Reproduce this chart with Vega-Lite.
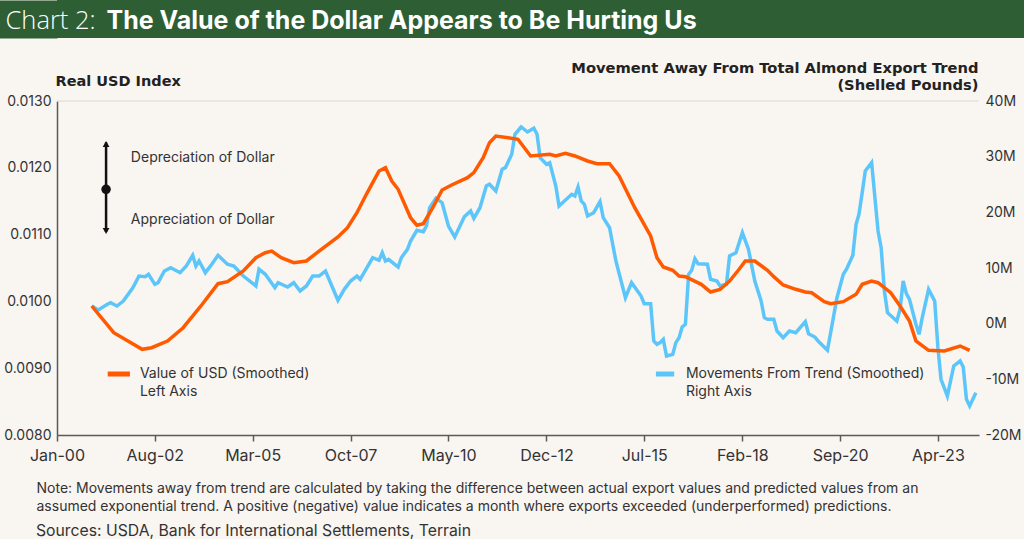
{
  "$schema": "https://vega.github.io/schema/vega-lite/v6.json",
  "background": "#f9f5f1",
  "padding": 0,
  "columns": 1,
  "spacing": 17,
  "config": {"font": "Inter", "view": {"stroke": null}},
  "title": {"text": "Sources: USDA, Bank for International Settlements, Terrain", "orient": "bottom", "anchor": "start", "frame": "bounds", "dx": 36, "offset": 23, "baseline": "alphabetic", "fontSize": 15.75, "fontWeight": "normal", "color": "#333333"},
  "datasets": {
    "usd": [
      {"date": "2000-12-01", "usd": 0.009931}, {"date": "2001-07-01", "usd": 0.009531}, {"date": "2002-04-01", "usd": 0.009283},
      {"date": "2002-07-01", "usd": 0.009307}, {"date": "2002-12-01", "usd": 0.009407}, {"date": "2003-05-01", "usd": 0.009606},
      {"date": "2003-11-01", "usd": 0.009957}, {"date": "2004-04-01", "usd": 0.010265}, {"date": "2004-07-01", "usd": 0.010295},
      {"date": "2004-12-01", "usd": 0.010455}, {"date": "2005-04-01", "usd": 0.010654}, {"date": "2005-07-01", "usd": 0.010729},
      {"date": "2005-09-01", "usd": 0.010754}, {"date": "2005-12-01", "usd": 0.010654}, {"date": "2006-04-01", "usd": 0.010579},
      {"date": "2006-08-01", "usd": 0.010605}, {"date": "2006-12-01", "usd": 0.010754}, {"date": "2007-06-01", "usd": 0.010964},
      {"date": "2007-09-01", "usd": 0.011103}, {"date": "2007-12-01", "usd": 0.011328}, {"date": "2008-03-01", "usd": 0.011603},
      {"date": "2008-05-01", "usd": 0.011777}, {"date": "2008-07-01", "usd": 0.011952}, {"date": "2008-09-01", "usd": 0.012002},
      {"date": "2008-11-01", "usd": 0.011802}, {"date": "2009-01-01", "usd": 0.011678}, {"date": "2009-05-01", "usd": 0.011253},
      {"date": "2009-07-01", "usd": 0.011139}, {"date": "2009-09-01", "usd": 0.011163}, {"date": "2009-12-01", "usd": 0.011403},
      {"date": "2010-03-01", "usd": 0.011668}, {"date": "2010-06-01", "usd": 0.011743}, {"date": "2010-11-01", "usd": 0.011852},
      {"date": "2011-01-01", "usd": 0.011927}, {"date": "2011-04-01", "usd": 0.012151}, {"date": "2011-06-01", "usd": 0.012376},
      {"date": "2011-08-01", "usd": 0.012476}, {"date": "2012-03-01", "usd": 0.012427}, {"date": "2012-07-01", "usd": 0.012177},
      {"date": "2013-01-01", "usd": 0.012202}, {"date": "2013-03-01", "usd": 0.012177}, {"date": "2013-06-01", "usd": 0.012217},
      {"date": "2013-09-01", "usd": 0.012177}, {"date": "2014-01-01", "usd": 0.012102}, {"date": "2014-04-01", "usd": 0.012061},
      {"date": "2014-08-01", "usd": 0.012061}, {"date": "2014-11-01", "usd": 0.011877}, {"date": "2015-04-01", "usd": 0.011403},
      {"date": "2015-09-01", "usd": 0.010979}, {"date": "2015-11-01", "usd": 0.010654}, {"date": "2016-01-01", "usd": 0.010515},
      {"date": "2016-04-01", "usd": 0.010466}, {"date": "2016-06-01", "usd": 0.010380}, {"date": "2016-08-01", "usd": 0.010370},
      {"date": "2017-01-01", "usd": 0.010256}, {"date": "2017-04-01", "usd": 0.010141}, {"date": "2017-07-01", "usd": 0.010181},
      {"date": "2017-10-01", "usd": 0.010305}, {"date": "2018-01-01", "usd": 0.010481}, {"date": "2018-03-01", "usd": 0.010605},
      {"date": "2018-06-01", "usd": 0.010605}, {"date": "2018-10-01", "usd": 0.010466}, {"date": "2018-12-01", "usd": 0.010370},
      {"date": "2019-03-01", "usd": 0.010246}, {"date": "2019-07-01", "usd": 0.010181}, {"date": "2019-10-01", "usd": 0.010141},
      {"date": "2019-12-01", "usd": 0.010130}, {"date": "2020-04-01", "usd": 0.009996}, {"date": "2020-06-01", "usd": 0.009966},
      {"date": "2020-10-01", "usd": 0.009996}, {"date": "2021-02-01", "usd": 0.010106}, {"date": "2021-04-01", "usd": 0.010256},
      {"date": "2021-07-01", "usd": 0.010305}, {"date": "2021-09-01", "usd": 0.010280}, {"date": "2022-01-01", "usd": 0.010130},
      {"date": "2022-04-01", "usd": 0.009931}, {"date": "2022-07-01", "usd": 0.009707}, {"date": "2022-09-01", "usd": 0.009407},
      {"date": "2023-01-01", "usd": 0.009268}, {"date": "2023-06-01", "usd": 0.009257}, {"date": "2023-11-01", "usd": 0.009332},
      {"date": "2024-02-01", "usd": 0.009268}
    ],
    "almond": [
      {"date": "2000-12-01", "dev": 3170000}, {"date": "2001-02-01", "dev": 2460000}, {"date": "2001-05-01", "dev": 3480000},
      {"date": "2001-06-01", "dev": 3770000}, {"date": "2001-08-01", "dev": 3170000}, {"date": "2001-10-01", "dev": 4070000},
      {"date": "2002-01-01", "dev": 6460000}, {"date": "2002-03-01", "dev": 8560000}, {"date": "2002-05-01", "dev": 8440000},
      {"date": "2002-06-01", "dev": 8870000}, {"date": "2002-08-01", "dev": 7070000}, {"date": "2002-09-01", "dev": 7370000},
      {"date": "2002-11-01", "dev": 9460000}, {"date": "2003-01-01", "dev": 10050000}, {"date": "2003-04-01", "dev": 9160000},
      {"date": "2003-06-01", "dev": 10360000}, {"date": "2003-08-01", "dev": 12280000}, {"date": "2003-09-01", "dev": 10360000},
      {"date": "2003-10-01", "dev": 11260000}, {"date": "2003-12-01", "dev": 9160000}, {"date": "2004-02-01", "dev": 10670000},
      {"date": "2004-04-01", "dev": 12280000}, {"date": "2004-07-01", "dev": 10670000}, {"date": "2004-09-01", "dev": 10360000},
      {"date": "2004-12-01", "dev": 8560000}, {"date": "2005-04-01", "dev": 6770000}, {"date": "2005-05-01", "dev": 9770000},
      {"date": "2005-07-01", "dev": 8870000}, {"date": "2005-10-01", "dev": 6460000}, {"date": "2005-11-01", "dev": 7360000},
      {"date": "2006-02-01", "dev": 6590000}, {"date": "2006-04-01", "dev": 7360000}, {"date": "2006-06-01", "dev": 5870000},
      {"date": "2006-08-01", "dev": 6770000}, {"date": "2006-10-01", "dev": 8560000}, {"date": "2006-12-01", "dev": 8560000},
      {"date": "2007-02-01", "dev": 9460000}, {"date": "2007-06-01", "dev": 4200000}, {"date": "2007-08-01", "dev": 6170000},
      {"date": "2007-10-01", "dev": 7660000}, {"date": "2007-12-01", "dev": 8560000}, {"date": "2008-01-01", "dev": 7970000},
      {"date": "2008-05-01", "dev": 11850000}, {"date": "2008-07-01", "dev": 11380000}, {"date": "2008-08-01", "dev": 12750000},
      {"date": "2008-09-01", "dev": 11260000}, {"date": "2008-10-01", "dev": 11560000}, {"date": "2009-01-01", "dev": 10180000},
      {"date": "2009-02-01", "dev": 11850000}, {"date": "2009-04-01", "dev": 13360000}, {"date": "2009-05-01", "dev": 14850000},
      {"date": "2009-07-01", "dev": 16770000}, {"date": "2009-09-01", "dev": 16520000}, {"date": "2009-10-01", "dev": 17540000},
      {"date": "2009-11-01", "dev": 20830000}, {"date": "2010-01-01", "dev": 22520000}, {"date": "2010-03-01", "dev": 21730000},
      {"date": "2010-05-01", "dev": 17540000}, {"date": "2010-07-01", "dev": 15570000}, {"date": "2010-10-01", "dev": 19200000},
      {"date": "2010-12-01", "dev": 20240000}, {"date": "2011-01-01", "dev": 18930000}, {"date": "2011-03-01", "dev": 20830000},
      {"date": "2011-05-01", "dev": 24730000}, {"date": "2011-06-01", "dev": 25040000}, {"date": "2011-08-01", "dev": 23830000},
      {"date": "2011-10-01", "dev": 27730000}, {"date": "2011-11-01", "dev": 28020000}, {"date": "2012-01-01", "dev": 30430000},
      {"date": "2012-02-01", "dev": 34020000}, {"date": "2012-04-01", "dev": 35330000}, {"date": "2012-06-01", "dev": 34430000},
      {"date": "2012-08-01", "dev": 35100000}, {"date": "2012-09-01", "dev": 34020000}, {"date": "2012-10-01", "dev": 29810000},
      {"date": "2012-12-01", "dev": 28630000}, {"date": "2013-01-01", "dev": 28920000}, {"date": "2013-03-01", "dev": 24730000},
      {"date": "2013-04-01", "dev": 21140000}, {"date": "2013-08-01", "dev": 23240000}, {"date": "2013-09-01", "dev": 22930000},
      {"date": "2013-10-01", "dev": 24550000}, {"date": "2013-11-01", "dev": 22040000}, {"date": "2013-12-01", "dev": 21440000},
      {"date": "2014-01-01", "dev": 19340000}, {"date": "2014-03-01", "dev": 19930000}, {"date": "2014-05-01", "dev": 21910000},
      {"date": "2014-06-01", "dev": 19040000}, {"date": "2014-08-01", "dev": 17240000}, {"date": "2014-10-01", "dev": 11260000},
      {"date": "2015-01-01", "dev": 4660000}, {"date": "2015-03-01", "dev": 7360000}, {"date": "2015-06-01", "dev": 4970000},
      {"date": "2015-07-01", "dev": 3590000}, {"date": "2015-09-01", "dev": 3590000}, {"date": "2015-10-01", "dev": -3110000},
      {"date": "2015-11-01", "dev": -3710000}, {"date": "2015-12-01", "dev": -3410000}, {"date": "2016-01-01", "dev": -2810000},
      {"date": "2016-02-01", "dev": -5810000}, {"date": "2016-04-01", "dev": -5510000}, {"date": "2016-05-01", "dev": -3410000},
      {"date": "2016-06-01", "dev": -2520000}, {"date": "2016-07-01", "dev": -600000}, {"date": "2016-08-01", "dev": -110000},
      {"date": "2016-09-01", "dev": 8870000}, {"date": "2016-10-01", "dev": 9590000}, {"date": "2016-11-01", "dev": 11670000},
      {"date": "2016-12-01", "dev": 10770000}, {"date": "2017-03-01", "dev": 10670000}, {"date": "2017-04-01", "dev": 7970000},
      {"date": "2017-06-01", "dev": 7660000}, {"date": "2017-07-01", "dev": 6770000}, {"date": "2017-09-01", "dev": 7070000},
      {"date": "2017-10-01", "dev": 12160000}, {"date": "2017-12-01", "dev": 12750000}, {"date": "2018-02-01", "dev": 16340000},
      {"date": "2018-04-01", "dev": 13360000}, {"date": "2018-06-01", "dev": 7660000}, {"date": "2018-08-01", "dev": 4070000},
      {"date": "2018-09-01", "dev": 1070000}, {"date": "2018-10-01", "dev": 780000}, {"date": "2018-12-01", "dev": 780000},
      {"date": "2019-01-01", "dev": -1320000}, {"date": "2019-03-01", "dev": -2520000}, {"date": "2019-05-01", "dev": -1320000},
      {"date": "2019-07-01", "dev": -1620000}, {"date": "2019-10-01", "dev": 350000}, {"date": "2019-11-01", "dev": -1800000},
      {"date": "2020-01-01", "dev": -2400000}, {"date": "2020-02-01", "dev": -3110000}, {"date": "2020-05-01", "dev": -4780000},
      {"date": "2020-06-01", "dev": -1620000}, {"date": "2020-08-01", "dev": 4660000}, {"date": "2020-10-01", "dev": 8870000},
      {"date": "2020-11-01", "dev": 9770000}, {"date": "2021-01-01", "dev": 12300000}, {"date": "2021-02-01", "dev": 17850000},
      {"date": "2021-03-01", "dev": 19650000}, {"date": "2021-04-01", "dev": 23530000}, {"date": "2021-05-01", "dev": 27430000},
      {"date": "2021-07-01", "dev": 28920000}, {"date": "2021-09-01", "dev": 16650000}, {"date": "2021-10-01", "dev": 13650000},
      {"date": "2021-11-01", "dev": 5870000}, {"date": "2021-12-01", "dev": 1970000}, {"date": "2022-03-01", "dev": 480000},
      {"date": "2022-04-01", "dev": 2580000}, {"date": "2022-05-01", "dev": 7660000}, {"date": "2022-06-01", "dev": 5380000},
      {"date": "2022-07-01", "dev": 4380000}, {"date": "2022-09-01", "dev": -110000}, {"date": "2022-10-01", "dev": -1910000},
      {"date": "2022-11-01", "dev": 1070000}, {"date": "2023-01-01", "dev": 6170000}, {"date": "2023-03-01", "dev": 4070000},
      {"date": "2023-04-01", "dev": -4320000}, {"date": "2023-05-01", "dev": -9990000}, {"date": "2023-07-01", "dev": -12990000},
      {"date": "2023-09-01", "dev": -7600000}, {"date": "2023-11-01", "dev": -6710000}, {"date": "2023-12-01", "dev": -7780000},
      {"date": "2024-01-01", "dev": -13590000}, {"date": "2024-02-01", "dev": -14790000}, {"date": "2024-04-01", "dev": -12400000}
    ]
  },
  "concat": [
    {
      "width": 967, "height": 38,
      "view": {"fill": "#2d5e34", "stroke": null},
      "data": {"values": [{}]},
      "mark": {"type": "text"},
      "encoding": {
        "text": {"value": ""},
        "x": {
          "datum": 0, "type": "quantitative", "scale": {"domain": [0, 1]},
          "axis": {"orient": "bottom", "labels": false, "ticks": false, "domain": false, "grid": false, "minExtent": 0, "maxExtent": 0,
            "title": "The Value of the Dollar Appears to Be Hurting Us", "titleAnchor": "start", "titleAlign": "left", "titleBaseline": "alphabetic",
            "titleX": 49, "titleY": -10, "titleFont": "Inter", "titleFontSize": 25, "titleFontWeight": "bold", "titleColor": "#ffffff"}
        },
        "y": {
          "datum": 0, "type": "quantitative", "scale": {"domain": [0, 1]},
          "axis": {"orient": "left", "labels": false, "ticks": false, "grid": false, "minExtent": 0, "maxExtent": 0,
            "domain": true, "domainColor": "#2d5e34", "domainWidth": 58, "domainCap": "butt", "offset": 29,
            "title": "Chart 2:", "titleAngle": 0, "titleAlign": "left", "titleBaseline": "alphabetic",
            "titleX": -23, "titleY": 28, "titleFont": "Open Sans", "titleFontSize": 25.5, "titleFontWeight": 300, "titleColor": "#ffffff"}
        }
      }
    },
    {
      "width": 922,
      "height": 334,
      "resolve": {"scale": {"y": "independent"}},
      "layer": [
        {
          "data": {"name": "almond"},
          "mark": {"type": "line", "color": "#5cc6fb", "strokeWidth": 3.5},
          "encoding": {
            "x": {
              "field": "date", "type": "temporal",
              "scale": {"type": "utc", "domain": [{"year": 2000, "month": 1, "date": 1, "utc": true}, {"year": 2024, "month": 5, "date": 1, "utc": true}]},
              "axis": {
                "values": [
                  {"year": 2000, "month": 1, "date": 1, "utc": true}, {"year": 2002, "month": 8, "date": 1, "utc": true},
                  {"year": 2005, "month": 3, "date": 1, "utc": true}, {"year": 2007, "month": 10, "date": 1, "utc": true},
                  {"year": 2010, "month": 5, "date": 1, "utc": true}, {"year": 2012, "month": 12, "date": 1, "utc": true},
                  {"year": 2015, "month": 7, "date": 1, "utc": true}, {"year": 2018, "month": 2, "date": 1, "utc": true},
                  {"year": 2020, "month": 9, "date": 1, "utc": true}, {"year": 2023, "month": 4, "date": 1, "utc": true}
                ],
                "format": "%b-%y", "labelFontSize": 16, "labelColor": "#333333", "labelPadding": 6, "labelFlush": false,
                "domainColor": "#5a5a5a", "domainWidth": 1.5, "tickColor": "#5a5a5a", "tickWidth": 1.5, "tickSize": 6, "grid": false,
                "title": ["Note: Movements away from trend are calculated by taking the difference between actual export values and predicted values from an", "assumed exponential trend. A positive (negative) value indicates a month where exports exceeded (underperformed) predictions."],
                "titleFontSize": 14, "titleFontWeight": "normal", "titleColor": "#333333", "titleAnchor": "start", "titleAlign": "left",
                "titleBaseline": "alphabetic", "titleX": -21, "titleY": 57, "titleLineHeight": 18
              }
            },
            "y": {
              "field": "dev", "type": "quantitative",
              "scale": {"domain": [-20000000, 40000000], "nice": false, "zero": false},
              "axis": {
                "orient": "right", "values": [-20000000, -10000000, 0, 10000000, 20000000, 30000000, 40000000],
                "labelExpr": "(datum.value / 1000000) + 'M'", "domain": false, "ticks": false, "grid": false,
                "labelPadding": 6, "labelFontSize": 14, "labelColor": "#333333",
                "title": ["Movement Away From Total Almond Export Trend", "(Shelled Pounds)"],
                "titleAngle": 0, "titleAlign": "right", "titleBaseline": "alphabetic", "titleX": -1, "titleY": -28.5, "titleLineHeight": 17,
                "titleFont": "DejaVu Sans", "titleFontWeight": "bold", "titleFontSize": 14.7, "titleColor": "#222222"
              }
            }
          }
        },
        {
          "layer": [
            {
              "data": {"values": [{}]},
              "mark": {"type": "rule", "color": "#dcd8d3", "strokeWidth": 1},
              "encoding": {"y": {"datum": 0.013}}
            },
            {
              "data": {"name": "usd"},
              "mark": {"type": "line", "color": "#ff5a00", "strokeWidth": 3.5},
              "encoding": {
                "x": {"field": "date", "type": "temporal"},
                "y": {
                  "field": "usd", "type": "quantitative",
                  "scale": {"domain": [0.008, 0.013], "nice": false, "zero": false},
                  "axis": {
                    "orient": "left", "values": [0.008, 0.0085, 0.009, 0.0095, 0.01, 0.0105, 0.011, 0.0115, 0.012, 0.0125, 0.013],
                    "format": ".4f", "labelFontSize": 14, "labelColor": "#333333", "labelPadding": 6, "ticks": false, "grid": false,
                    "domainColor": "#5a5a5a", "domainWidth": 1.5, "minExtent": 57, "maxExtent": 57,
                    "title": "Real USD Index", "titleAngle": 0, "titleAlign": "left", "titleBaseline": "alphabetic", "titleX": -2, "titleY": -16,
                    "titleFont": "DejaVu Sans", "titleFontWeight": "bold", "titleFontSize": 14.5, "titleColor": "#222222"
                  }
                }
              }
            },
            {
              "data": {"values": [{}]},
              "mark": {"type": "rule", "color": "#111111", "strokeWidth": 2.5},
              "encoding": {
                "x": {"datum": {"year": 2001, "month": 4, "date": 18, "utc": true}, "type": "temporal"},
                "y": {"datum": 0.01104},
                "y2": {"datum": 0.01238}
              }
            },
            {
              "data": {"values": [{}]},
              "mark": {"type": "point", "shape": "triangle-up", "filled": true, "color": "#111111", "size": 45, "opacity": 1},
              "encoding": {
                "x": {"datum": {"year": 2001, "month": 4, "date": 18, "utc": true}, "type": "temporal"},
                "y": {"datum": 0.012356}
              }
            },
            {
              "data": {"values": [{}]},
              "mark": {"type": "point", "shape": "triangle-down", "filled": true, "color": "#111111", "size": 45, "opacity": 1},
              "encoding": {
                "x": {"datum": {"year": 2001, "month": 4, "date": 18, "utc": true}, "type": "temporal"},
                "y": {"datum": 0.011054}
              }
            },
            {
              "data": {"values": [{}]},
              "mark": {"type": "point", "shape": "circle", "filled": true, "color": "#111111", "size": 90, "opacity": 1},
              "encoding": {
                "x": {"datum": {"year": 2001, "month": 4, "date": 18, "utc": true}, "type": "temporal"},
                "y": {"datum": 0.011678}
              }
            },
            {
              "data": {"values": [{}]},
              "mark": {"type": "text", "align": "left", "baseline": "middle", "fontSize": 14, "color": "#333333"},
              "encoding": {
                "x": {"datum": {"year": 2001, "month": 12, "date": 13, "utc": true}, "type": "temporal"},
                "y": {"datum": 0.012142},
                "text": {"value": "Depreciation of Dollar"}
              }
            },
            {
              "data": {"values": [{}]},
              "mark": {"type": "text", "align": "left", "baseline": "middle", "fontSize": 14, "color": "#333333"},
              "encoding": {
                "x": {"datum": {"year": 2001, "month": 12, "date": 13, "utc": true}, "type": "temporal"},
                "y": {"datum": 0.011214},
                "text": {"value": "Appreciation of Dollar"}
              }
            },
            {
              "data": {"values": [{}]},
              "mark": {"type": "rule", "color": "#ff5a00", "strokeWidth": 5},
              "encoding": {
                "x": {"datum": {"year": 2001, "month": 5, "date": 4, "utc": true}, "type": "temporal"},
                "x2": {"datum": {"year": 2001, "month": 12, "date": 4, "utc": true}},
                "y": {"datum": 0.008913}
              }
            },
            {
              "data": {"values": [{}]},
              "mark": {"type": "text", "align": "left", "baseline": "middle", "fontSize": 14, "color": "#333333"},
              "encoding": {
                "x": {"datum": {"year": 2002, "month": 3, "date": 10, "utc": true}, "type": "temporal"},
                "y": {"datum": 0.008913},
                "text": {"value": "Value of USD (Smoothed)"}
              }
            },
            {
              "data": {"values": [{}]},
              "mark": {"type": "text", "align": "left", "baseline": "middle", "fontSize": 14, "color": "#333333"},
              "encoding": {
                "x": {"datum": {"year": 2002, "month": 3, "date": 10, "utc": true}, "type": "temporal"},
                "y": {"datum": 0.008644},
                "text": {"value": "Left Axis"}
              }
            },
            {
              "data": {"values": [{}]},
              "mark": {"type": "rule", "color": "#5cc6fb", "strokeWidth": 5},
              "encoding": {
                "x": {"datum": {"year": 2015, "month": 10, "date": 22, "utc": true}, "type": "temporal"},
                "x2": {"datum": {"year": 2016, "month": 4, "date": 15, "utc": true}},
                "y": {"datum": 0.008913}
              }
            },
            {
              "data": {"values": [{}]},
              "mark": {"type": "text", "align": "left", "baseline": "middle", "fontSize": 14, "color": "#333333"},
              "encoding": {
                "x": {"datum": {"year": 2016, "month": 8, "date": 6, "utc": true}, "type": "temporal"},
                "y": {"datum": 0.008913},
                "text": {"value": "Movements From Trend (Smoothed)"}
              }
            },
            {
              "data": {"values": [{}]},
              "mark": {"type": "text", "align": "left", "baseline": "middle", "fontSize": 14, "color": "#333333"},
              "encoding": {
                "x": {"datum": {"year": 2016, "month": 8, "date": 6, "utc": true}, "type": "temporal"},
                "y": {"datum": 0.008644},
                "text": {"value": "Right Axis"}
              }
            }
          ]
        }
      ]
    }
  ]
}
